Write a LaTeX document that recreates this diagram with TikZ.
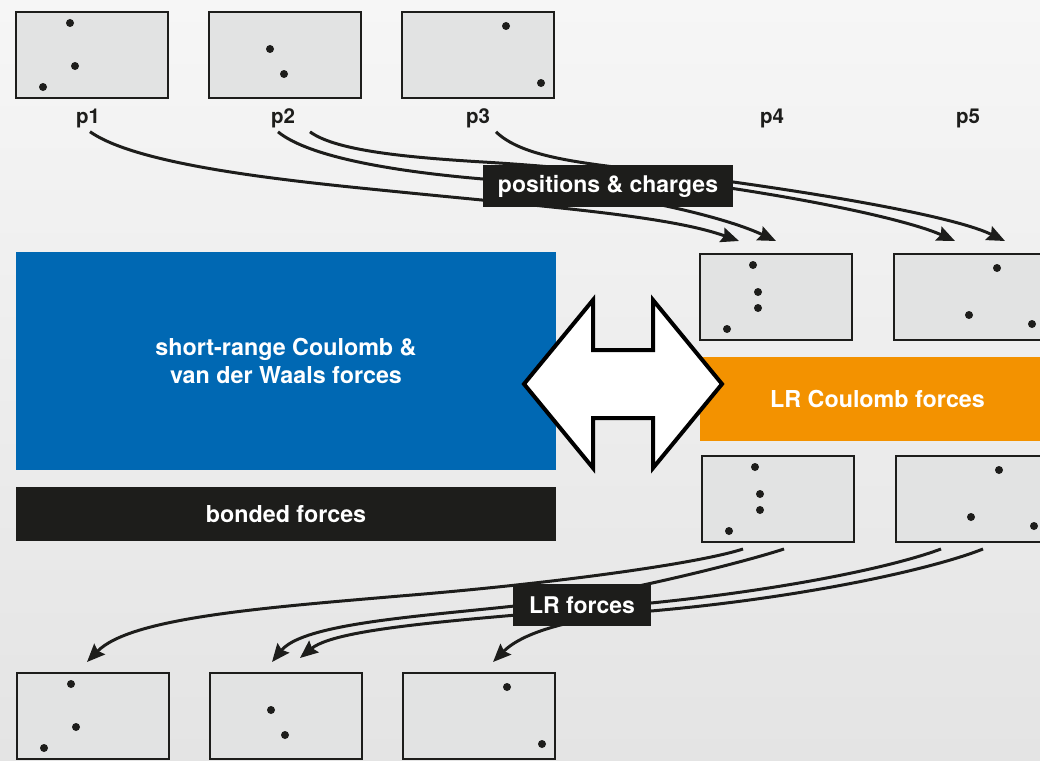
\documentclass[tikz,border=0pt]{standalone}
\usepackage{fontspec}
\setmainfont{TeX Gyre Heros}
\usetikzlibrary{arrows.meta}
\definecolor{srblue}{RGB}{0,104,179}
\definecolor{lrorange}{RGB}{243,146,0}
\definecolor{ink}{RGB}{29,29,27}
\definecolor{cellfill}{RGB}{226,227,227}
\definecolor{bgtop}{RGB}{246,246,246}
\definecolor{bgbot}{RGB}{228,228,228}
\newcommand{\drawcell}[3]{
\node[cell] (#1) at #2 {};
\foreach \dx/\dy in {#3}
  \fill[ink] ([shift={(\dx,\dy)}]#1.north west) circle (4pt);
}
\begin{document}
\begin{tikzpicture}[x=1pt,y=-1pt,
cell/.style={draw=ink,line width=2pt,fill=cellfill,minimum width=152pt,minimum height=86pt,inner sep=0pt},
plabel/.style={text=ink,font=\bfseries\fontsize{20.5}{24}\selectfont,inner sep=0pt},
tag/.style={fill=ink,text=white,font=\bfseries\fontsize{23}{27}\selectfont,inner sep=0pt},
block/.style={text=white,align=center,font=\bfseries\fontsize{23.3}{27.3}\selectfont,inner sep=0pt},
flow/.style={draw=ink,line width=3pt,-{Stealth[length=18pt,width=15pt,inset=2.5pt]}}]
\useasboundingbox (0,0) rectangle (1040,760);
\clip (0,0) rectangle (1040,760);
\shade[top color=bgtop,bottom color=bgbot] (0,0) rectangle (1040,760);
\drawcell{in1}{(92,55)}{55/12,60/55,28/76}
\drawcell{in2}{(285,55)}{62/38,76/63}
\drawcell{in3}{(478,55)}{105/15,140/72}
\node[plabel] (p1) at (88,118) {p1};
\node[plabel] (p2) at (283,118) {p2};
\node[plabel] (p3) at (478,118) {p3};
\node[plabel] (p4) at (772,118) {p4};
\node[plabel] (p5) at (968,118) {p5};
\drawcell{lr4}{(776,297)}{54/12,59/39,59/55,28/76}
\drawcell{lr5}{(970,297)}{104/15,76/62,139/71}
\drawcell{f4}{(778,499)}{54/12,59/39,59/55,28/76}
\drawcell{f5}{(972,499)}{104/15,76/62,139/71}
\drawcell{out1}{(93,716)}{55/12,60/55,28/76}
\drawcell{out2}{(286,716)}{62/38,76/63}
\drawcell{out3}{(479,716)}{105/15,140/72}
\node[block,fill=srblue,minimum width=540pt,minimum height=218pt] (sr) at (286,361) {short-range Coulomb \&\\van der Waals forces};
\node[block,fill=ink,minimum width=540pt,minimum height=54pt] (bf) at (286,514) {bonded forces};
\node[block,fill=lrorange,minimum width=355pt,minimum height=84pt] (lr) at (877.5,399) {LR Coulomb forces};
\draw[line width=4pt,draw=black,fill=white] (524,384) -- (593,300) -- (593,350) -- (653,350) -- (653,300) -- (722,384) -- (653,468) -- (653,418) -- (593,418) -- (593,468) -- cycle;
\draw[flow] ([xshift=2pt,yshift=-4pt]p1.south) .. controls (140,167) and (300,182) .. (400,192) .. controls (550,207) and (669,216) .. ([xshift=-37pt,yshift=12pt]lr4.north);
\draw[flow] ([xshift=-5pt,yshift=-4pt]p2.south) .. controls (310,158) and (400,172) .. (483,179) .. controls (600,189) and (716,213) .. ([yshift=12pt]lr4.north);
\draw[flow] ([xshift=27pt,yshift=-4pt]p2.south) .. controls (335,150) and (400,157) .. (483,162) .. controls (700,175) and (895,214) .. ([xshift=-15pt,yshift=12pt]lr5.north);
\draw[flow] ([xshift=18pt,yshift=-4pt]p3.south) .. controls (520,155) and (570,162) .. (640,170) .. controls (760,184) and (945,212) .. ([xshift=35pt,yshift=12pt]lr5.north);
\draw[flow] ([xshift=-35pt,yshift=-6pt]f4.south) .. controls (700,563) and (560,583) .. (400,596) .. controls (260,608) and (130,618) .. ([xshift=-6pt,yshift=10pt]out1.north);
\draw[flow] ([xshift=6pt,yshift=-6pt]f4.south) .. controls (750,560) and (680,578) .. (600,594) .. controls (500,614) and (310,615) .. ([xshift=-14pt,yshift=10pt]out2.north);
\draw[flow] ([xshift=-31pt,yshift=-6pt]f5.south) .. controls (890,568) and (780,590) .. (651,603) .. controls (500,618) and (340,625) .. ([xshift=14pt,yshift=14pt]out2.north);
\draw[flow] ([xshift=11pt,yshift=-6pt]f5.south) .. controls (930,570) and (800,598) .. (651,611) .. controls (580,617) and (525,630) .. ([xshift=14pt,yshift=10pt]out3.north);
\node[tag,minimum width=250pt,minimum height=42pt] (pc) at (608,186) {positions \& charges};
\node[tag,minimum width=138pt,minimum height=42pt] (lrf) at (582,605) {LR forces};
\end{tikzpicture}
\end{document}
